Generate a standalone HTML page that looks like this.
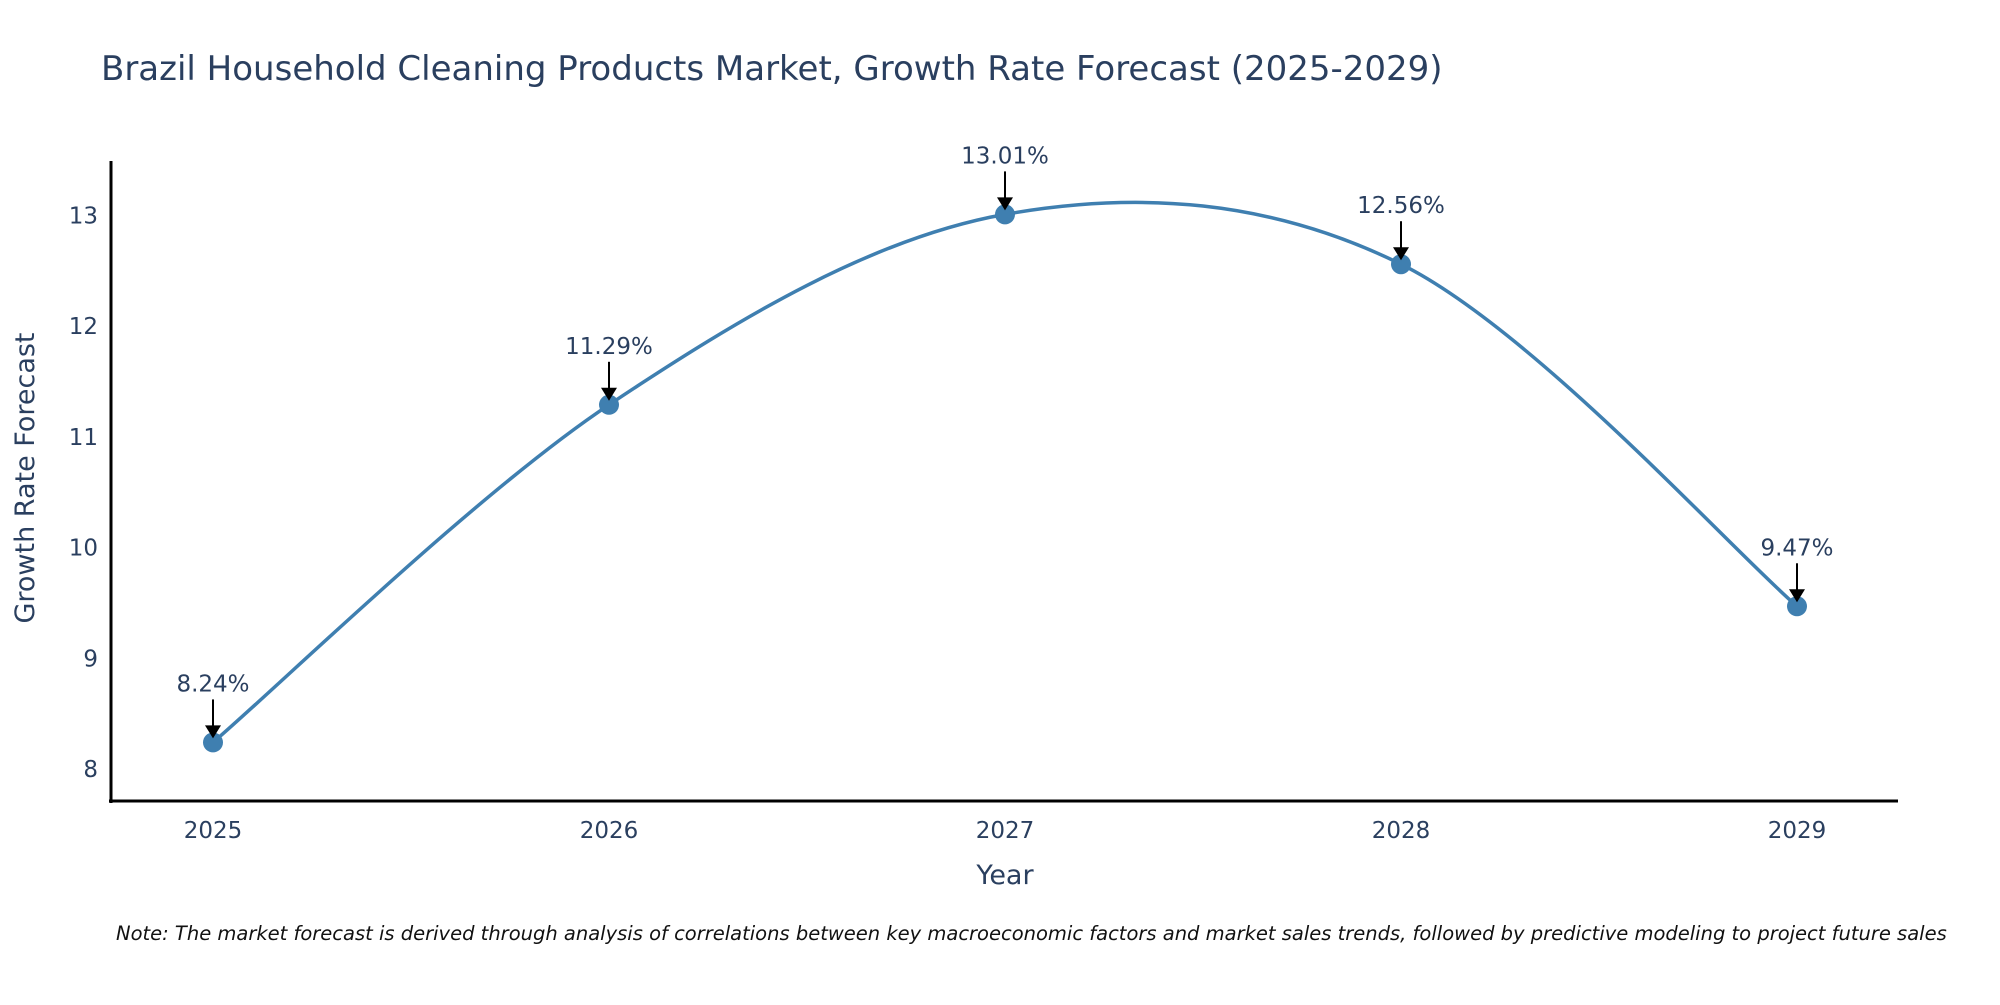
<!DOCTYPE html>
<html><head><meta charset="utf-8"><style>
html,body{margin:0;padding:0;background:#fff;}
svg text{font-family:"DejaVu Sans","Liberation Sans",sans-serif;fill:#2a3f5f;}
</style></head><body>
<svg id="chart" width="2000" height="1000" viewBox="0 0 2000 1000" xmlns="http://www.w3.org/2000/svg">
<rect width="2000" height="1000" fill="#fff"/>
<text x="101" y="80" font-size="34">Brazil Household Cleaning Products Market, Growth Rate Forecast (2025-2029)</text>
<g id="axes"></g>
<g id="plot"></g>
<text transform="translate(34,478) rotate(-90)" text-anchor="middle" font-size="27">Growth Rate Forecast</text>
<text x="1005" y="884" text-anchor="middle" font-size="27">Year</text>
<text x="116" y="940" font-size="19.5" font-style="italic" style="fill:#111">Note: The market forecast is derived through analysis of correlations between key macroeconomic factors and market sales trends, followed by predictive modeling to project future sales</text>
</svg>
<script>
const years = [2025, 2026, 2027, 2028, 2029];
const values = [8.24, 11.29, 13.01, 12.56, 9.47];
const labels = ["8.24%", "11.29%", "13.01%", "12.56%", "9.47%"];
const yTicks = [8, 9, 10, 11, 12, 13];

const NS = "http://www.w3.org/2000/svg";
const X0 = 213, XSTEP = 396;
const Y8 = 769, YUNIT = 110.7;
const xs = v => X0 + (v - years[0]) * XSTEP;
const ys = v => Y8 - (v - 8) * YUNIT;
function mk(tag, attrs, parent) {
  const e = document.createElementNS(NS, tag);
  for (const k in attrs) e.setAttribute(k, attrs[k]);
  parent.appendChild(e);
  return e;
}
const axes = document.getElementById('axes');
const plot = document.getElementById('plot');

const yl = mk('line', {x1:111, y1:161, x2:111, y2:803, stroke:'#000', 'stroke-width':3}, axes);


const xl = mk('line', {x1:109, y1:801, x2:1898, y2:801, stroke:'#000', 'stroke-width':3}, axes);



yTicks.forEach(t => {
  const e = mk('text', {x:98, y:ys(t)+8, 'text-anchor':'end', 'font-size':23}, axes);
  e.textContent = t;
  
  
});
years.forEach(yr => {
  const e = mk('text', {x:xs(yr), y:838, 'text-anchor':'middle', 'font-size':23}, axes);
  e.textContent = yr;
  
  
});

// Catmull-Rom spline through points
const pts = years.map((yr, i) => [xs(yr), ys(values[i])]);
let d = `M${pts[0][0]},${pts[0][1]}`;
const tension = 1/6;
for (let i = 0; i < pts.length - 1; i++) {
  const p0 = pts[Math.max(0, i-1)], p1 = pts[i], p2 = pts[i+1], p3 = pts[Math.min(pts.length-1, i+2)];
  const c1 = [p1[0] + (p2[0]-p0[0])*tension, p1[1] + (p2[1]-p0[1])*tension];
  const c2 = [p2[0] - (p3[0]-p1[0])*tension, p2[1] - (p3[1]-p1[1])*tension];
  d += ` C${c1[0]},${c1[1]} ${c2[0]},${c2[1]} ${p2[0]},${p2[1]}`;
}
const line = mk('path', {d:d, fill:'none', stroke:'#3f7fb0', 'stroke-width':3.5}, plot);



pts.forEach((p, i) => {
  const c = mk('circle', {cx:p[0], cy:p[1], r:10, fill:'#3f7fb0'}, plot);
  
  
  const a = mk('line', {x1:p[0], y1:p[1]-43, x2:p[0], y2:p[1]-14, stroke:'#000', 'stroke-width':2}, plot);
  
  
  const h = mk('polygon', {points:`${p[0]-8},${p[1]-17} ${p[0]+8},${p[1]-17} ${p[0]},${p[1]-4}`, fill:'#000'}, plot);
  
  
  const t = mk('text', {x:p[0], y:p[1]-51, 'text-anchor':'middle', 'font-size':23}, plot);
  t.textContent = labels[i];
  
  
});
</script>
</body></html>
